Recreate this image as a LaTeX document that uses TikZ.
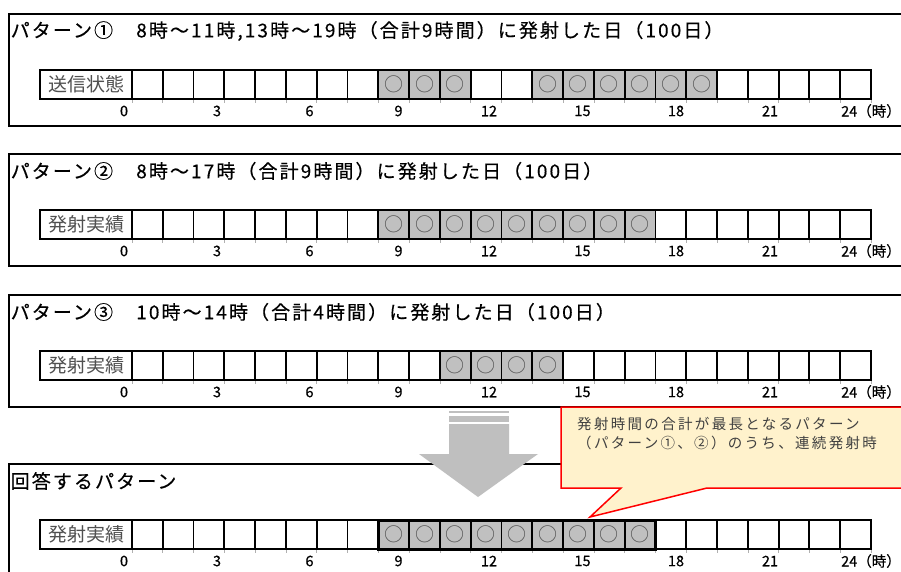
\documentclass[tikz,border=0pt]{standalone}
\usepackage{fontspec}
\setmainfont{Noto Sans CJK JP}
\newfontfamily\titlefont[LetterSpace=11,FakeBold=0.4]{Noto Sans CJK JP}
\newfontfamily\callfont[LetterSpace=16]{Noto Sans CJK JP}
\newfontfamily\plainfont{Noto Sans CJK JP}
\newfontfamily\hourfont[FakeBold=0.6]{Noto Sans CJK JP}
\definecolor{cellgray}{HTML}{C0C0C0}
\definecolor{arrowgray}{HTML}{BFBFBF}
\definecolor{calloutfill}{HTML}{FFF2CC}
\definecolor{calloutred}{HTML}{FF0000}
\definecolor{labelgray}{HTML}{505050}
\definecolor{circgray}{HTML}{555555}
\definecolor{tickgray}{HTML}{B0B0B0}
\definecolor{calltext}{HTML}{404040}
\def\cw{30.79}
\tikzset{
  panelbox/.style={draw=black,line width=2pt},
  titletext/.style={anchor=west,inner sep=0pt,font=\titlefont\fontsize{19}{20}\selectfont},
  gridline/.style={draw=black,line width=1.8pt},
  answerbox/.style={draw=black,line width=3pt},
  tickline/.style={draw=tickgray,line width=0.6pt},
  rowlabel/.style={inner sep=0pt,text=labelgray,font=\plainfont\fontsize{19}{20}\selectfont},
  circmark/.style={inner sep=0pt,text=circgray,font=\plainfont\fontsize{19}{19}\selectfont},
  hourlabel/.style={inner sep=0pt,font=\hourfont\fontsize{14.5}{15}\selectfont},
  callout/.style={fill=calloutfill,draw=calloutred,line width=1.5pt,line join=miter},
  calltextstyle/.style={anchor=west,inner sep=0pt,text=calltext,font=\callfont\fontsize{14.5}{16}\selectfont},
  bigarrow/.style={fill=arrowgray}
}
% #1 panel top y, #2 row label, #3 gray cells, #4 id
\newcommand\cellrow[4]{%
  \pgfmathsetmacro\ry{#1+56}%
  \pgfmathsetmacro\rb{#1+85}%
  \pgfmathsetmacro\rm{#1+70.5}%
  \pgfmathsetmacro\hy{#1+97}%
  \foreach \i in {#3} {
    \fill[cellgray] ({132+\i*\cw},\ry) rectangle ({132+(\i+1)*\cw},\rb);
    \node[circmark] (c#4-\i) at ({132+(\i+0.5)*\cw},\rm) {○};
  }
  \foreach \i in {0,...,24} {\draw[tickline] ({132+\i*\cw},\rb) -- ({132+\i*\cw},{\rb+4});}
  \draw[gridline] (40,\ry) rectangle ({132+24*\cw},\rb);
  \foreach \i in {0,...,23} {\draw[gridline] ({132+\i*\cw},\ry) -- ({132+\i*\cw},\rb);}
  \node[rowlabel] (lab#4) at (86,\rm) {#2};
  \foreach \h/\x in {0/124,3/217,6/309.5,9/398.5,12/489,15/582.5,18/676,21/770} {
    \node[hourlabel] (h#4-\h) at (\x,\hy) {\h};
  }
  \node[hourlabel,anchor=west] (h#4-24) at (841,\hy) {24（時）};
}
\begin{document}
\begin{tikzpicture}[x=1pt,y=-1pt]
\useasboundingbox (0,0) rectangle (901,572);
\clip (0,0) rectangle (901,572);
\fill[white] (0,0) rectangle (901,572);

% panel 1
\draw[panelbox] (9,14) rectangle (920,126);
\node[titletext] (t1) at (10.5,31) {パターン①　8時～11時,13時～19時（合計9時間）に発射した日（100日）};
\cellrow{14}{送信状態}{8,9,10,13,14,15,16,17,18}{1}

% panel 2
\draw[panelbox] (9,154) rectangle (920,266);
\node[titletext] (t2) at (10.5,171) {パターン②　8時～17時（合計9時間）に発射した日（100日）};
\cellrow{154}{発射実績}{8,9,10,11,12,13,14,15,16}{2}

% panel 3
\draw[panelbox] (9,295) rectangle (920,407);
\node[titletext] (t3) at (10.5,312) {パターン③　10時～14時（合計4時間）に発射した日（100日）};
\cellrow{295}{発射実績}{10,11,12,13}{3}

% panel 4
\draw[panelbox] (9,464) rectangle (920,590);
\node[titletext] (t4) at (10.5,481) {回答するパターン};
\cellrow{464}{発射実績}{8,9,10,11,12,13,14,15,16}{4}
\draw[answerbox] ({132+8*\cw},520) rectangle ({132+17*\cw},549);

% big arrow
\fill[bigarrow] (449,411) rectangle (509,413);
\fill[bigarrow] (449,416) rectangle (509,422);
\fill[bigarrow] (449,424) -- (509,424) -- (509,454) -- (538,454) -- (478,497) -- (419,454) -- (449,454) -- cycle;

% callout
\coordinate (tip) at (590,517);
\draw[callout] (561,407) -- (920,407) -- (920,488) -- (707,488) -- (tip) -- (621,488) -- (561,488) -- cycle;
\node[calltextstyle] (k1) at (577,424) {発射時間の合計が最長となるパターン};
\node[calltextstyle] (k2) at (577,443) {（パターン①、②）のうち、連続発射時};
\end{tikzpicture}
\end{document}
